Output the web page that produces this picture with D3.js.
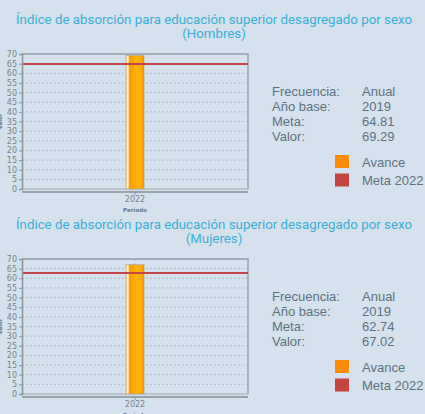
<!DOCTYPE html>
<html>
<head>
<meta charset="utf-8">
<script src="https://cdn.jsdelivr.net/npm/d3@7"></script>
<style>
  body { margin: 0; background: #d5e1ec; }
  svg { display: block; }
  .title { font-family: Roboto, "Noto Sans", sans-serif; font-size: 13.3px; fill: #3aafd9; }
  .tick text { font-family: "DejaVu Sans", sans-serif; font-size: 8px; fill: #75858f; }
  .info { font-family: "Liberation Sans", Arial, sans-serif; font-size: 13px; fill: #5b7283; }
</style>
</head>
<body>
<div id="chart"></div>
<script>
// Data_________________________________________________
const titleText = 'Índice de absorción para educación superior desagregado por sexo';
const groups = ['Hombres', 'Mujeres'];
const periods = ['2022'];
const avance = [69.29, 67.02];
const metas = [64.81, 62.74];
const baseYears = ['2019', '2019'];
const frequencies = ['Anual', 'Anual'];
const yTicks = [0, 5, 10, 15, 20, 25, 30, 35, 40, 45, 50, 55, 60, 65, 70];
const legendItems = [['Avance', '#ff8c00'], ['Meta 2022', '#c4443f']];

// Layout_________________________________________________
const width = 425;
const height = 414;
const panelStep = 205;
const plotLeft = 22, plotRight = 248, plotTop = 54, plotBottom = 189;

const svg = d3.select('#chart')
    .append('svg')
    .attr('width', width)
    .attr('height', height);

// bar gradient
const grad = svg.append('defs')
    .append('linearGradient')
    .attr('id', 'barGrad')
    .attr('x1', '0%').attr('x2', '100%').attr('y1', '0%').attr('y2', '0%');
[[0, '#ffc870'], [0.07, '#fff4dc'], [0.14, '#ffd890'], [0.2, '#ff9800'], [0.6, '#ffb400'], [0.88, '#ffa800'], [1, '#e88c00']]
    .forEach(s => grad.append('stop').attr('offset', s[0]).attr('stop-color', s[1]));

const x = d3.scaleBand().domain(periods).range([plotLeft, plotRight]).padding(0.8525);
const y = d3.scaleLinear().domain([0, 70]).range([plotBottom, plotTop]);

groups.forEach((g, i) => {
    const panel = svg.append('g').attr('transform', `translate(0, ${i * panelStep})`);

    // title
    const title = panel.append('text').attr('class', 'title').attr('text-anchor', 'middle');
    title.append('tspan').attr('x', 214).attr('y', 24).text(titleText);
    title.append('tspan').attr('x', 214).attr('y', 38).text(`(${g})`);

    // horizontal gridlines
    panel.append('g')
        .selectAll('line')
        .data(yTicks.filter(t => t > 0 && t < 70))
        .enter()
        .append('line')
        .attr('x1', plotLeft).attr('x2', plotRight)
        .attr('y1', d => y(d)).attr('y2', d => y(d))
        .attr('stroke', '#a9b4bd')
        .attr('stroke-width', 0.8)
        .attr('stroke-dasharray', '2,2');

    // vertical gridline at period
    panel.append('line')
        .attr('x1', x('2022') + x.bandwidth() / 2).attr('x2', x('2022') + x.bandwidth() / 2)
        .attr('y1', plotTop).attr('y2', plotBottom)
        .attr('stroke', '#a9b4bd')
        .attr('stroke-width', 0.8)
        .attr('stroke-dasharray', '2,2');

    // frame
    panel.append('path')
        .attr('d', `M${plotLeft},${plotTop}H${plotRight}V${plotBottom}`)
        .attr('fill', 'none')
        .attr('stroke', '#a4aeb6')
        .attr('stroke-width', 1.8);
    panel.append('line')
        .attr('x1', plotLeft).attr('x2', plotRight)
        .attr('y1', plotBottom).attr('y2', plotBottom)
        .attr('stroke', '#9ea8b0');

    // bar
    panel.selectAll('rect.bar')
        .data([avance[i]])
        .enter()
        .append('rect')
        .attr('class', 'bar')
        .attr('x', x('2022'))
        .attr('width', x.bandwidth())
        .attr('y', d => y(d))
        .attr('height', d => y(0) - y(d))
        .attr('fill', 'url(#barGrad)')
        .attr('stroke', '#b9a990')
        .attr('stroke-width', 0.8);

    // meta line
    panel.append('line')
        .attr('x1', plotLeft).attr('x2', plotRight)
        .attr('y1', y(metas[i])).attr('y2', y(metas[i]))
        .attr('stroke', '#c4464a')
        .attr('stroke-width', 2);

    // y axis
    panel.append('g')
        .attr('transform', `translate(${plotLeft},0)`)
        .call(d3.axisLeft(y).tickValues(yTicks).tickSize(3).tickPadding(2))
        .call(a => a.select('.domain').attr('stroke', '#8a949c').attr('stroke-width', 1.5))
        .call(a => a.selectAll('.tick line').attr('stroke', '#8a949c'));

    // x axis
    panel.append('g')
        .attr('transform', `translate(0,${plotBottom + 3})`)
        .call(d3.axisBottom(x).tickSize(3).tickPadding(1))
        .call(a => a.select('.domain').attr('stroke', '#98a2aa').attr('stroke-width', 2).attr('d', `M${plotLeft},0H${plotRight}`))
        .call(a => a.selectAll('.tick line').attr('stroke', '#8a949c'))
        .call(a => a.selectAll('.tick text').attr('font-size', 8.5).attr('fill', '#5f6f7a'));

    panel.append('text')
        .attr('x', 135).attr('y', 212)
        .attr('text-anchor', 'middle')
        .attr('font-family', 'DejaVu Sans, sans-serif')
        .attr('font-size', 5.5)
        .attr('font-weight', 'bold')
        .attr('fill', '#6a7680')
        .text('Periodo');

    // y axis title, mostly cut off at the left edge
    panel.append('text')
        .attr('transform', `translate(2,${(plotTop + plotBottom) / 2}) rotate(-90)`)
        .attr('text-anchor', 'middle')
        .attr('font-family', 'DejaVu Sans, sans-serif')
        .attr('font-size', 5.5)
        .attr('font-weight', 'bold')
        .attr('fill', '#6a7680')
        .text('Valor');

    // info block
    const info = [
        ['Frecuencia:', frequencies[i]],
        ['Año base:', baseYears[i]],
        ['Meta:', metas[i].toFixed(2)],
        ['Valor:', avance[i].toFixed(2)]
    ];
    const rows = panel.selectAll('g.info')
        .data(info)
        .enter()
        .append('g')
        .attr('class', 'info')
        .attr('transform', (d, k) => `translate(0,${95.5 + k * 15})`);
    rows.append('text').attr('class', 'info').attr('x', 272).text(d => d[0]);
    rows.append('text').attr('class', 'info').attr('x', 362).text(d => d[1]);

    // legend
    const leg = panel.selectAll('g.legend')
        .data(legendItems)
        .enter()
        .append('g')
        .attr('class', 'legend')
        .attr('transform', (d, k) => `translate(335,${155 + k * 18.5})`);
    leg.append('rect').attr('width', 14).attr('height', 13).attr('fill', d => d[1]);
    leg.append('text').attr('class', 'info').attr('x', 27).attr('y', 11.7).text(d => d[0]);
});
</script>
</body>
</html>
